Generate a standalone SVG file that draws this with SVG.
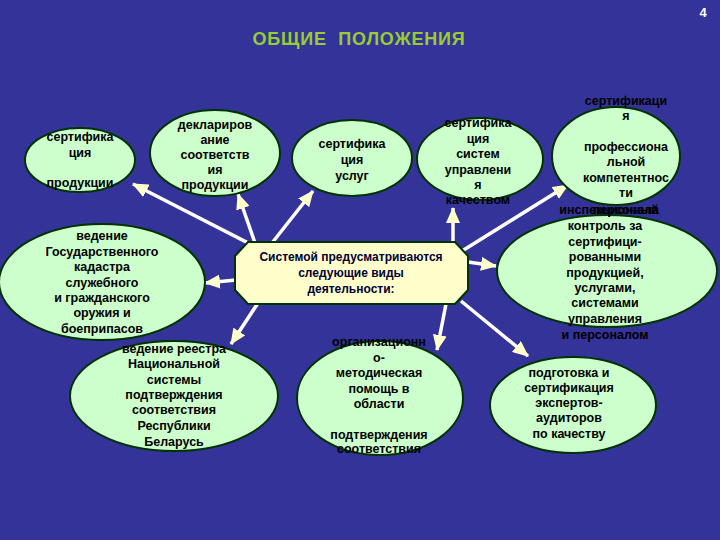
<svg xmlns="http://www.w3.org/2000/svg" width="720" height="540" viewBox="0 0 720 540">
<defs>
<style>
.n{fill:#ccffcc;stroke:#003300;stroke-width:2}
.t{font-family:"Liberation Sans",Arial,sans-serif;font-weight:bold;font-size:12.5px;fill:#000000;text-anchor:middle}
.c{font-family:"Liberation Sans",Arial,sans-serif;font-weight:bold;font-size:12px;fill:#000033;text-anchor:middle}
.a{stroke:#ffffff;stroke-width:3.5;fill:none;marker-end:url(#ah)}
</style>
<marker id="ah" viewBox="0 0 16 14" refX="15" refY="7" markerWidth="16" markerHeight="14" markerUnits="userSpaceOnUse" orient="auto">
<path d="M0,0 L16,7 L0,14 z" fill="#ffffcc"/>
</marker>
</defs>
<rect width="720" height="540" fill="#333399"/>
<text x="703" y="17" font-family="Liberation Sans,Arial,sans-serif" font-weight="bold" font-size="13" fill="#ffffff" text-anchor="middle">4</text>
<text x="359" y="45" font-family="Liberation Sans,Arial,sans-serif" font-weight="bold" font-size="18" letter-spacing="0.8" fill="#99cc33" text-anchor="middle" xml:space="preserve">ОБЩИЕ  ПОЛОЖЕНИЯ</text>

<g id="connectors">
<line class="a" x1="262" y1="250" x2="133" y2="184"/>
<line class="a" x1="255" y1="243" x2="238" y2="194"/>
<line class="a" x1="272" y1="243" x2="313" y2="191"/>
<line class="a" x1="453" y1="243" x2="453" y2="208"/>
<line class="a" x1="462" y1="251" x2="568" y2="185"/>
<line class="a" x1="236" y1="280" x2="205" y2="283"/>
<line class="a" x1="468" y1="262" x2="496" y2="266"/>
<line class="a" x1="258" y1="303" x2="231" y2="344"/>
<line class="a" x1="446" y1="304" x2="437" y2="350"/>
<line class="a" x1="461" y1="301" x2="528" y2="356"/>
</g>

<g id="center">
<polygon points="248,242 455,242 468,256 468,290 455,304 248,304 235,290 235,256" fill="#ffffcc" stroke="#003300" stroke-width="2"/>
<text class="c" x="351" y="261">Системой предусматриваются</text>
<text class="c" x="351" y="277">следующие виды</text>
<text class="c" x="351" y="293">деятельности:</text>
</g>

<g id="n1">
<ellipse class="n" cx="80" cy="160" rx="55" ry="32"/>
<text class="t" x="80" y="141">сертифика</text>
<text class="t" x="80" y="157">ция</text>
<text class="t" x="80" y="187">продукции</text>
</g>

<g id="n2">
<ellipse class="n" cx="215" cy="153" rx="65" ry="43"/>
<text class="t" x="215" y="129">деклариров</text>
<text class="t" x="215" y="144">ание</text>
<text class="t" x="215" y="159">соответств</text>
<text class="t" x="215" y="174">ия</text>
<text class="t" x="215" y="189">продукции</text>
</g>

<g id="n3">
<ellipse class="n" cx="352" cy="158" rx="60" ry="38"/>
<text class="t" x="352" y="148">сертифика</text>
<text class="t" x="352" y="164">ция</text>
<text class="t" x="352" y="180">услуг</text>
</g>

<g id="n4">
<ellipse class="n" cx="480" cy="159" rx="63" ry="41"/>
<text class="t" x="478" y="127">сертифика</text>
<text class="t" x="478" y="143">ция</text>
<text class="t" x="478" y="158">систем</text>
<text class="t" x="478" y="174">управлени</text>
<text class="t" x="478" y="189">я</text>
<text class="t" x="478" y="204">качеством</text>
</g>

<g id="n5">
<ellipse class="n" cx="616" cy="156" rx="64" ry="49"/>
<text class="t" x="626" y="105">сертификаци</text>
<text class="t" x="626" y="120">я</text>
<text class="t" x="626" y="151">профессиона</text>
<text class="t" x="626" y="166">льной</text>
<text class="t" x="626" y="182">компетентнос</text>
<text class="t" x="626" y="197">ти</text>
</g>

<g id="n6">
<ellipse class="n" cx="102" cy="282" rx="103" ry="58"/>
<text class="t" x="102" y="240">ведение</text>
<text class="t" x="102" y="256">Государственного</text>
<text class="t" x="102" y="271">кадастра</text>
<text class="t" x="102" y="287">служебного</text>
<text class="t" x="102" y="302">и гражданского</text>
<text class="t" x="102" y="317">оружия и</text>
<text class="t" x="102" y="333">боеприпасов</text>
</g>

<g id="n7">
<ellipse class="n" cx="607" cy="271" rx="110" ry="56"/>
<text class="t" x="609" y="214">инспекционный</text>
<text class="t" x="605" y="230">контроль за</text>
<text class="t" x="605" y="246">сертифици-</text>
<text class="t" x="605" y="261">рованными</text>
<text class="t" x="605" y="277">продукцией,</text>
<text class="t" x="605" y="292">услугами,</text>
<text class="t" x="605" y="307">системами</text>
<text class="t" x="605" y="323">управления</text>
<text class="t" x="605" y="339">и персоналом</text>
</g>
<text class="t" x="626" y="214">персонала</text>

<g id="n8">
<ellipse class="n" cx="174" cy="396" rx="104" ry="55"/>
<text class="t" x="174" y="353">ведение реестра</text>
<text class="t" x="174" y="368">Национальной</text>
<text class="t" x="174" y="384">системы</text>
<text class="t" x="174" y="399">подтверждения</text>
<text class="t" x="174" y="414">соответствия</text>
<text class="t" x="174" y="430">Республики</text>
<text class="t" x="174" y="446">Беларусь</text>
</g>

<g id="n9">
<ellipse class="n" cx="380" cy="398" rx="83" ry="57"/>
<text class="t" x="379" y="346">организационн</text>
<text class="t" x="379" y="362">о-</text>
<text class="t" x="379" y="377">методическая</text>
<text class="t" x="379" y="393">помощь в</text>
<text class="t" x="379" y="408">области</text>
<text class="t" x="379" y="439">подтверждения</text>
<text class="t" x="379" y="453">соответствия</text>
</g>

<g id="n10">
<ellipse class="n" cx="573" cy="405" rx="83" ry="48"/>
<text class="t" x="569" y="377">подготовка и</text>
<text class="t" x="569" y="392">сертификация</text>
<text class="t" x="569" y="407">экспертов-</text>
<text class="t" x="569" y="422">аудиторов</text>
<text class="t" x="569" y="438">по качеству</text>
</g>
</svg>
